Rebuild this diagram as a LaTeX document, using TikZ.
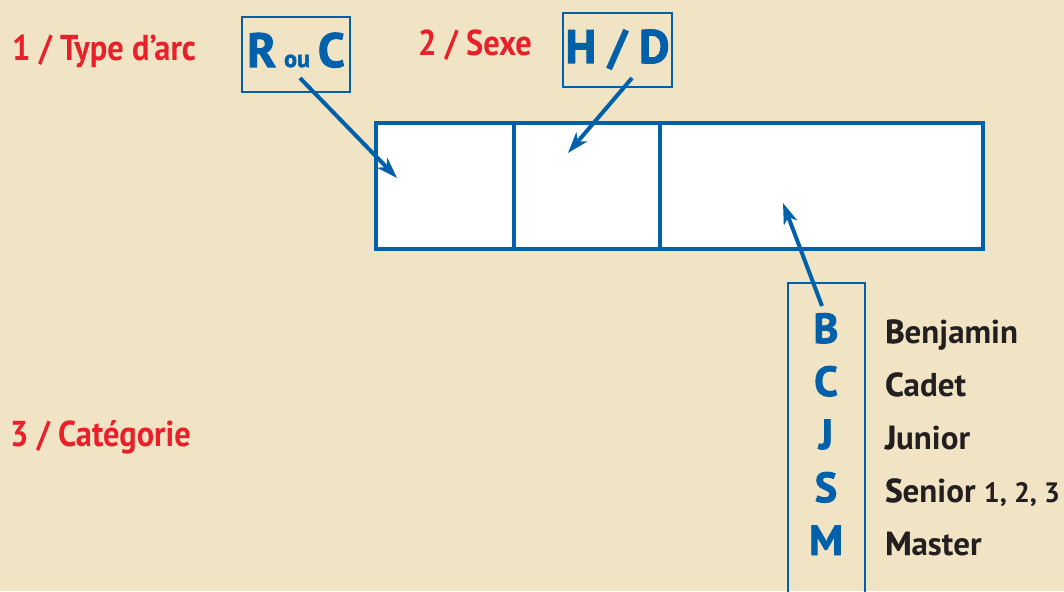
\documentclass[tikz,border=0pt]{standalone}
\usepackage{fontspec}
\setmainfont{PT Sans}
\newfontfamily\heavy{PT Sans Bold}[FakeBold=2.2]
\newfontfamily\semiheavy{PT Sans Bold}[FakeBold=1.2]
\newfontfamily\redfont{PT Sans Bold}[FakeStretch=0.9]
\usetikzlibrary{arrows.meta}
\definecolor{bg}{HTML}{F0E4C5}
\definecolor{bblue}{HTML}{0060AA}
\definecolor{rred}{HTML}{E8202A}
\definecolor{tblack}{HTML}{231F20}
\tikzset{
  redlabel/.style={text=rred,font=\redfont\fontsize{36}{36}\selectfont,anchor=base west,inner sep=0},
  codebox/.style={draw=bblue,line width=2pt,minimum width=#1,inner sep=0,minimum height=75pt},
  cell/.style={draw=bblue,fill=white,line width=4.5pt,inner sep=0,minimum height=126pt,minimum width=#1},
  ptr/.style={draw=bblue,line width=4pt,-{Stealth[length=21pt,width=14pt,inset=6pt]}},
  letter/.style={text=bblue,font=\heavy\fontsize{42}{42}\selectfont,anchor=base,inner sep=0},
  word/.style={text=tblack,font=\bfseries\fontsize{33}{33}\selectfont,anchor=base west,inner sep=0},
}
\newcommand{\hv}[1]{{\semiheavy #1}}
\newcommand{\smallnum}[1]{{\fontsize{28}{28}\selectfont #1}}
\begin{document}
\begin{tikzpicture}[x=1pt,y=-1pt]
\useasboundingbox[fill=bg] (0,0) rectangle (1064,591);
% labels
\node[redlabel] (l1) at (12,61) {1 / Type d’arc};
\node[redlabel] (l2) at (418,56) {2 / Sexe};
\node[redlabel] (l3) at (10,446) {3 / Catégorie};
% code boxes
\node[codebox=108pt] (rc) at (296,54.5) {};
\node[text=bblue,anchor=base,inner sep=0] (rct) at (296,67) {\heavy\fontsize{48}{48}\selectfont R\,{\fontsize{24}{24}\selectfont ou}\,C};
\node[codebox=109pt,minimum height=74pt] (hd) at (617.5,50) {};
\node[text=bblue,anchor=base,inner sep=0] (hdt) at (617.5,63) {\heavy\fontsize{47}{47}\selectfont H / D};
% main cells
\node[cell=138pt] (ca) at (445,186) {};
\node[cell=146pt] (cb) at (587,186) {};
\node[cell=323pt] (cc) at (821.5,186) {};
% category column
\coordinate (colbl) at (788,610);
\coordinate (coltr) at (865,283);
\draw[bblue,line width=2pt] (colbl) |- (coltr) -- (865,610);
% letters
\foreach \L/\R/\y [count=\i] in {B/{enjamin}/343,C/{adet}/396,J/{unior}/449,S/{enior \smallnum{1, 2, 3}}/502,M/{aster}/555}{
  \node[letter] (let\i) at (826,\y) {\L};
  \node[word] (w\i) at (885,\y) {\hv{\L}\R};
}
% pointers
\coordinate (s1) at (300,78);
\coordinate (t1) at (397,178);
\coordinate (s2) at (632,78);
\coordinate (t2) at (568,153);
\coordinate (s3) at (822,306);
\coordinate (t3) at (783,203);
\draw[ptr] (s1) -- (t1);
\draw[ptr] (s2) -- (t2);
\draw[ptr] (s3) -- (t3);
\end{tikzpicture}
\end{document}
